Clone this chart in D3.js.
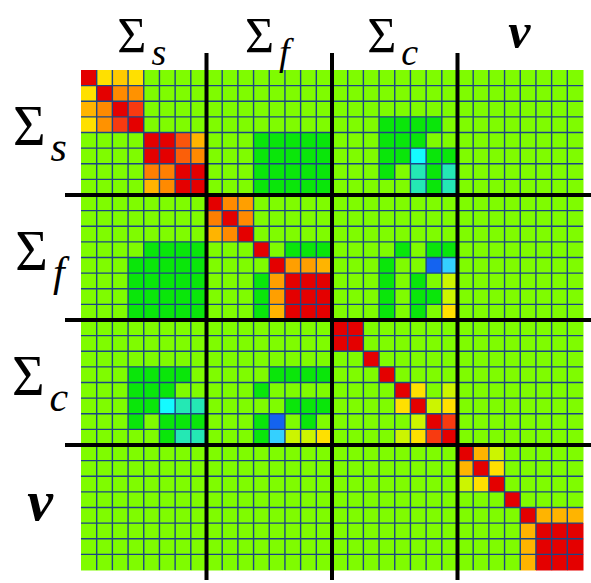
<!DOCTYPE html>
<html>
<head>
<meta charset="utf-8">
<script src="https://cdn.jsdelivr.net/npm/d3@7"></script>
<style>
  html, body { margin: 0; padding: 0; background: #ffffff; }
  svg { display: block; }
</style>
</head>
<body>
<svg id="chart" width="591" height="583"></svg>
<script>
// ---- data ----
const groups = ["s", "f", "c", "nu"];          // parameter blocks
const groupSymbols = ["Σ", "Σ", "Σ", "ν"];
const groupSubscripts = ["s", "f", "c", ""];
const perGroup = 8;

// correlation-like values (rows = 32 variables)
const matrix = [
  // Σs block rows
  [1,.5,.55,.5, 0,0,0,0,  0,0,0,0,0,0,0,0,  0,0,0,0,0,0,0,0,  0,0,0,0,0,0,0,0],
  [.5,1,.7,.68, 0,0,0,0,  0,0,0,0,0,0,0,0,  0,0,0,0,0,0,0,0,  0,0,0,0,0,0,0,0],
  [.6,.7,1,.85, 0,0,0,0,  0,0,0,0,0,0,0,0,  0,0,0,0,0,0,0,0,  0,0,0,0,0,0,0,0],
  [.5,.68,.85,1, 0,0,0,0,  0,0,0,0,0,0,0,0,  0,0,0,-.35,-.35,-.35,-.35,0,  0,0,0,0,0,0,0,0],
  [0,0,0,0, 1,1,.8,.6,  0,0,0,-.35,-.35,-.35,-.35,-.35,  0,0,0,-.35,-.35,-.35,0,0,  0,0,0,0,0,0,0,0],
  [0,0,0,0, 1,1,.78,.7,  0,0,0,-.35,-.35,-.35,-.35,-.35,  0,0,0,-.35,-.35,-.85,-.35,-.35,  0,0,0,0,0,0,0,0],
  [0,0,0,0, .72,.72,1,1,  0,0,0,-.35,-.35,-.35,-.35,-.35,  0,0,0,-.35,0,-.7,-.35,-.7,  0,0,0,0,0,0,0,0],
  [0,0,0,0, .6,.7,1,1,  0,0,0,-.35,-.35,-.35,-.35,-.35,  0,0,0,0,0,-.7,-.35,-.7,  0,0,0,0,0,0,0,0],
  // Σf block rows
  [0,0,0,0,0,0,0,0,  1,.7,.65,0,0,0,0,0,  0,0,0,0,0,0,0,0,  0,0,0,0,0,0,0,0],
  [0,0,0,0,0,0,0,0,  .72,1,.7,0,0,0,0,0,  0,0,0,0,0,0,0,0,  0,0,0,0,0,0,0,0],
  [0,0,0,0,0,0,0,0,  .6,.7,1,0,0,0,0,0,  0,0,0,0,0,0,0,0,  0,0,0,0,0,0,0,0],
  [0,0,0,0,-.35,-.35,-.35,-.35,  0,0,0,1,0,-.35,-.35,-.35,  0,0,0,0,-.35,0,-.35,-.35,  0,0,0,0,0,0,0,0],
  [0,0,0,-.35,-.35,-.35,-.35,-.35,  0,0,0,0,1,.65,.65,.6,  0,0,0,-.35,0,0,-1,-.9,  0,0,0,0,0,0,0,0],
  [0,0,0,-.35,-.35,-.35,-.35,-.35,  0,0,0,-.35,.65,1,1,1,  0,0,0,-.35,0,-.35,0,.3,  0,0,0,0,0,0,0,0],
  [0,0,0,-.35,-.35,-.35,-.35,-.35,  0,0,0,-.35,.65,1,1,1,  0,0,0,-.35,0,-.35,-.35,.3,  0,0,0,0,0,0,0,0],
  [0,0,0,-.35,-.35,-.35,-.35,-.35,  0,0,0,-.35,.6,1,1,1,  0,0,0,-.35,0,-.35,0,.5,  0,0,0,0,0,0,0,0],
  // Σc block rows
  [0,0,0,0,0,0,0,0,  0,0,0,0,0,0,0,0,  1,1,0,0,0,0,0,0,  0,0,0,0,0,0,0,0],
  [0,0,0,0,0,0,0,0,  0,0,0,0,0,0,0,0,  1,1,0,0,0,0,0,0,  0,0,0,0,0,0,0,0],
  [0,0,0,0,0,0,0,0,  0,0,0,0,0,0,0,0,  0,0,1,0,0,0,0,0,  0,0,0,0,0,0,0,0],
  [0,0,0,-.35,-.35,-.35,-.35,0,  0,0,0,0,-.35,-.35,-.35,-.35,  0,0,0,1,0,0,0,0,  0,0,0,0,0,0,0,0],
  [0,0,0,-.35,-.35,-.35,0,0,  0,0,0,-.35,0,0,0,0,  0,0,0,0,1,.5,0,.3,  0,0,0,0,0,0,0,0],
  [0,0,0,-.35,-.35,-.85,-.7,-.7,  0,0,0,0,0,-.35,-.35,-.35,  0,0,0,0,.5,1,.3,.5,  0,0,0,0,0,0,0,0],
  [0,0,0,-.35,0,-.35,-.35,-.35,  0,0,0,-.35,-1,0,-.35,0,  0,0,0,0,0,.3,1,.85,  0,0,0,0,0,0,0,0],
  [0,0,0,0,0,-.35,-.7,-.7,  0,0,0,-.35,-.9,.3,.3,.5,  0,0,0,0,.3,.5,.85,1,  0,0,0,0,0,0,0,0],
  // ν block rows
  [0,0,0,0,0,0,0,0,  0,0,0,0,0,0,0,0,  0,0,0,0,0,0,0,0,  1,.6,.3,0,0,0,0,0],
  [0,0,0,0,0,0,0,0,  0,0,0,0,0,0,0,0,  0,0,0,0,0,0,0,0,  .6,1,.5,0,0,0,0,0],
  [0,0,0,0,0,0,0,0,  0,0,0,0,0,0,0,0,  0,0,0,0,0,0,0,0,  .3,.5,1,0,0,0,0,0],
  [0,0,0,0,0,0,0,0,  0,0,0,0,0,0,0,0,  0,0,0,0,0,0,0,0,  0,0,0,1,0,0,0,0],
  [0,0,0,0,0,0,0,0,  0,0,0,0,0,0,0,0,  0,0,0,0,0,0,0,0,  0,0,0,0,1,.6,.6,.6],
  [0,0,0,0,0,0,0,0,  0,0,0,0,0,0,0,0,  0,0,0,0,0,0,0,0,  0,0,0,0,.6,1,1,1],
  [0,0,0,0,0,0,0,0,  0,0,0,0,0,0,0,0,  0,0,0,0,0,0,0,0,  0,0,0,0,.6,1,1,1],
  [0,0,0,0,0,0,0,0,  0,0,0,0,0,0,0,0,  0,0,0,0,0,0,0,0,  0,0,0,0,.6,1,1,1]
];

// colour ramp stops
const colorStops = [-1, -.9, -.85, -.7, -.35, 0, .3, .5, .6, .7, .85, 1];
const colorValues = ["#1463f0","#34d0ff","#14fbff","#24e8b4","#0ae60a","#7ffc00",
                     "#ccf500","#ffe000","#ffb400","#ff8a00","#f83a10","#e40000"];

// ---- layout ----
const svg = d3.select("#chart");
const W = 591, H = 583;
const grid = { left: 81, right: 583, top: 70, bottom: 570 };
const serif = "'Liberation Serif', 'Times New Roman', Times, 'DejaVu Serif', serif";

const categories = [];
groups.forEach(g => { for (let i = 1; i <= perGroup; i++) categories.push(g + i); });

const x = d3.scaleBand().domain(categories).range([grid.left, grid.right]).padding(0);
const y = d3.scaleBand().domain(categories).range([grid.top, grid.bottom]).padding(0);
const color = d3.scaleLinear().domain(colorStops).range(colorValues)
  .interpolate(d3.interpolateRgb).clamp(true);

// cells
const cells = [];
matrix.forEach((row, i) => row.forEach((v, j) => cells.push({ r: categories[i], c: categories[j], v })));
svg.append("g").selectAll("rect").data(cells).join("rect")
  .attr("x", d => x(d.c))
  .attr("y", d => y(d.r))
  .attr("width", x.bandwidth() + 0.5)
  .attr("height", y.bandwidth() + 0.5)
  .attr("fill", d => color(d.v));

// thin cell grid lines (interior)
const inner = categories.slice(1);
const gl = svg.append("g").attr("stroke", "#1d4585").attr("stroke-width", 1.4);
gl.selectAll("line.v").data(inner).join("line").attr("class", "v")
  .attr("x1", d => x(d)).attr("x2", d => x(d))
  .attr("y1", grid.top).attr("y2", grid.bottom);
gl.selectAll("line.h").data(inner).join("line").attr("class", "h")
  .attr("y1", d => y(d)).attr("y2", d => y(d))
  .attr("x1", grid.left).attr("x2", grid.right);

// thick block separators
const seps = groups.slice(1).map(g => g + "1");
const sg = svg.append("g").attr("stroke", "#000").attr("stroke-width", 4);
sg.selectAll("line.v").data(seps).join("line").attr("class", "v")
  .attr("x1", d => x(d)).attr("x2", d => x(d))
  .attr("y1", grid.top - 17).attr("y2", H - 3);
sg.selectAll("line.h").data(seps).join("line").attr("class", "h")
  .attr("y1", d => y(d)).attr("y2", d => y(d))
  .attr("x1", grid.left - 16).attr("x2", W);

// block labels
const blockSize = x.bandwidth() * perGroup;
const blocks = groups.map((g, k) => ({
  sym: groupSymbols[k], sub: groupSubscripts[k],
  cx: x(g + "1") + blockSize / 2, cy: y(g + "1") + blockSize / 2
}));

function addLabel(sel, d, symSize, subSize, subShift, nuSize) {
  sel.attr("font-family", serif).attr("fill", "#000");
  if (d.sub) {
    sel.append("tspan").attr("font-size", symSize).text(d.sym);
    sel.append("tspan").attr("font-size", subSize).attr("font-style", "italic")
      .attr("dx", 5).attr("dy", subShift).text(d.sub);
  } else {
    sel.append("tspan").attr("font-size", nuSize).attr("font-style", "italic")
      .attr("font-weight", "bold").text(d.sym);
  }
}

// top labels
svg.append("g").selectAll("text").data(blocks).join("text")
  .attr("text-anchor", "middle")
  .attr("x", d => d.cx - (d.sub ? 2 : 1))
  .attr("y", d => d.sub ? grid.top - 18 : grid.top - 22)
  .each(function (d) { addLabel(d3.select(this), d, 50, 38, 13, 50); });

// left labels
svg.append("g").selectAll("text").data(blocks).join("text")
  .attr("text-anchor", "middle")
  .attr("x", (grid.left - 1) / 2)
  .attr("y", d => d.cy + 12)
  .each(function (d) { addLabel(d3.select(this), d, 56, 42, 16, 58); });
</script>
</body>
</html>
